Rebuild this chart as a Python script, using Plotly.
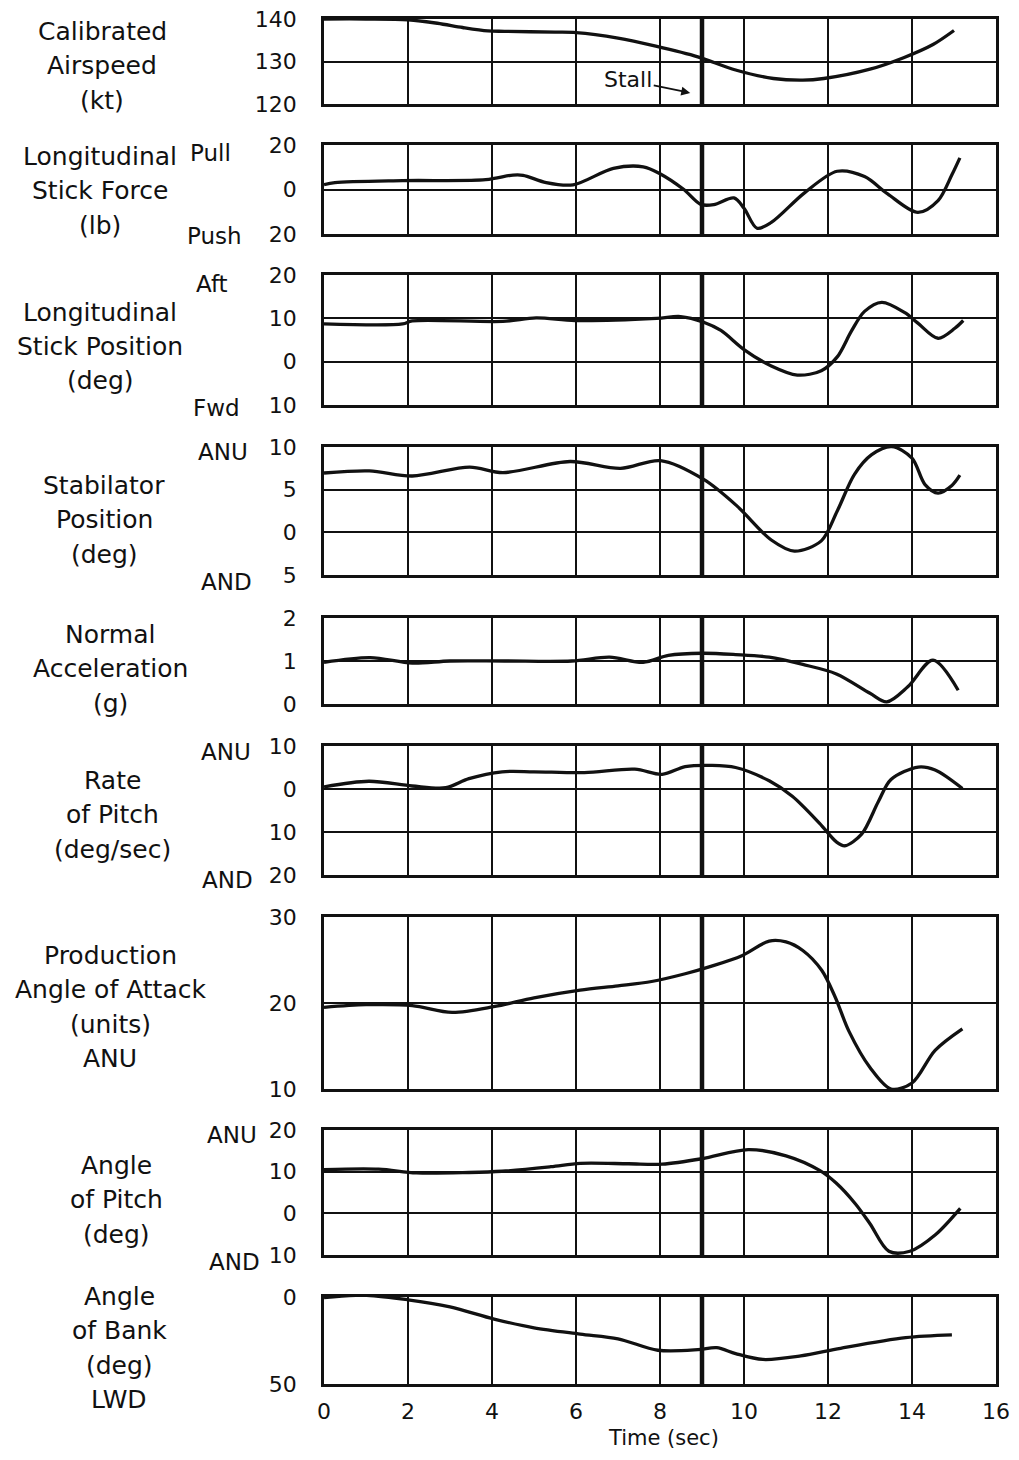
import plotly.graph_objects as go

# ---------------- data ----------------
STALL_TIME = 9.0
TIME_TICKS = [0, 2, 4, 6, 8, 10, 12, 14, 16]

AIRSPEED_T = [0, 1, 2, 2.7, 3.3, 3.9, 4.3, 5.5, 6.0, 7.0, 7.9, 8.9, 9.8, 10.7, 11.4, 11.9, 13.0, 13.8, 14.5, 15.0]
AIRSPEED_KT = [140, 140, 139.8, 139.0, 138.0, 137.2, 137.1, 136.9, 136.8, 135.5, 133.6, 131.1, 128.0, 126.0, 125.6, 126.0, 128.2, 130.9, 134.0, 137.3]

FORCE_T = [0, 0.26, 1.87, 3.85, 4.5, 4.74, 5.29, 5.93, 6.89, 7.6, 8.01, 8.56, 8.97, 9.28, 9.76, 10.0, 10.31, 10.65, 11.44, 12.22, 12.87, 13.42, 14.14, 14.62, 14.95, 15.14]
FORCE_LB = [2.2, 3.1, 4.0, 4.4, 6.5, 6.4, 3.1, 2.1, 9.5, 10.2, 7.0, 0.1, -6.7, -6.8, -3.8, -8.4, -17.4, -14.8, -1.5, 8.2, 5.8, -2.0, -10.3, -5.0, 6.6, 14.2]

STICK_T = [0, 1.87, 2.1, 4.26, 5.05, 5.98, 7.92, 8.49, 9.04, 9.45, 10.0, 10.65, 11.27, 11.84, 12.22, 12.56, 12.87, 13.28, 13.83, 14.14, 14.62, 15.02, 15.22]
STICK_DEG = [8.7, 8.7, 9.4, 9.3, 10.1, 9.5, 10.0, 10.4, 9.1, 7.2, 2.8, -1.0, -3.1, -2.1, 1.1, 7.1, 11.6, 13.7, 11.3, 8.9, 5.4, 7.7, 9.5]

STAB_T = [0, 1.08, 2.1, 3.47, 4.26, 5.86, 7.06, 8.01, 9.04, 9.83, 10.65, 11.2, 11.84, 12.22, 12.63, 13.04, 13.52, 14.0, 14.31, 14.62, 14.95, 15.14]
STAB_DEG = [6.95, 7.2, 6.6, 7.65, 7.0, 8.3, 7.5, 8.4, 6.2, 3.1, -0.9, -2.2, -1.0, 2.5, 6.8, 9.1, 10.05, 8.7, 5.6, 4.6, 5.5, 6.7]

NZ_T = [0, 1.1, 2.1, 3.0, 4.3, 5.9, 6.8, 7.6, 8.2, 9.0, 9.8, 10.6, 11.4, 12.2, 13.0, 13.4, 13.9, 14.5, 15.1]
NZ_G = [0.97, 1.08, 0.95, 1.0, 1.0, 1.0, 1.09, 0.97, 1.13, 1.18, 1.15, 1.09, 0.92, 0.70, 0.25, 0.05, 0.40, 1.02, 0.32]

QRATE_T = [0, 1.07, 2.1, 2.9, 3.45, 4.24, 5.0, 6.2, 7.4, 8.05, 8.6, 9.24, 9.8, 10.6, 11.15, 11.8, 12.2, 12.4, 12.8, 13.2, 13.5, 14.15, 14.55, 15.2]
QRATE_DPS = [0.5, 1.8, 0.7, 0.3, 2.4, 4.0, 4.0, 3.8, 4.6, 3.4, 5.2, 5.5, 5.0, 1.9, -1.7, -8.0, -12.3, -13.2, -10.5, -2.9, 2.2, 5.1, 4.4, 0.1]

AOA_T = [0, 1, 2.1, 3.05, 4.07, 5.0, 6.1, 7.0, 7.8, 8.6, 9.17, 9.95, 10.6, 11.0, 11.4, 11.85, 12.17, 12.5, 13.0, 13.5, 14.0, 14.55, 15.2]
AOA_UNITS = [19.5, 19.8, 19.7, 18.9, 19.6, 20.6, 21.5, 22.0, 22.5, 23.4, 24.2, 25.5, 27.2, 27.1, 26.1, 23.8, 20.7, 16.7, 12.5, 10.0, 10.7, 14.5, 17.0]

PITCH_T = [0, 1.3, 2.2, 3.45, 4.24, 5.4, 6.1, 7.25, 8.05, 9.0, 10.1, 11.0, 11.8, 12.2, 12.65, 13.0, 13.45, 13.95, 14.55, 15.15]
PITCH_DEG = [10.5, 10.6, 9.7, 9.8, 10.1, 11.2, 12.0, 11.9, 11.8, 13.1, 15.3, 13.8, 10.3, 7.2, 2.3, -2.5, -9.1, -9.1, -5.2, 1.2]

BANK_T = [0, 0.95, 2.0, 3.0, 4.05, 5.0, 6.1, 7.0, 7.95, 8.9, 9.35, 9.8, 10.45, 11.35, 12.3, 13.85, 14.95]
BANK_DEG = [0.4, -1.0, 1.6, 5.7, 12.7, 17.7, 21.3, 24.0, 30.6, 30.3, 29.1, 32.5, 35.9, 33.9, 29.5, 23.4, 21.8]

# tick values (labels show magnitudes only, as in the original)
AIRSPEED_TICKS = [120, 130, 140]
FORCE_TICKS = [-20, 0, 20]
STICK_TICKS = [-10, 0, 10, 20]
STAB_TICKS = [-5, 0, 5, 10]
NZ_TICKS = [0, 1, 2]
QRATE_TICKS = [-20, -10, 0, 10]
AOA_TICKS = [10, 20, 30]
PITCH_TICKS = [-10, 0, 10, 20]
BANK_TICKS = [0, 50]

# ---------------- layout helpers ----------------
PAGE_W, PAGE_H = 1019, 1460
BODY_MARGIN = 8                      # default page margin around the plot div
W, H = PAGE_W - 2 * BODY_MARGIN, PAGE_H - 2 * BODY_MARGIN
FONT = "DejaVu Sans"
INK = "#111111"
X_LEFT, X_RIGHT = 324, 996


def yp(p):
    return 1 - (p - BODY_MARGIN) / H


def xp(p):
    return (p - BODY_MARGIN) / W


panels = [
    dict(t=AIRSPEED_T, v=AIRSPEED_KT, ticks=AIRSPEED_TICKS, rng=[120, 140], top=19, bot=104),
    dict(t=FORCE_T, v=FORCE_LB, ticks=FORCE_TICKS, rng=[-20, 20], top=145, bot=234),
    dict(t=STICK_T, v=STICK_DEG, ticks=STICK_TICKS, rng=[-10, 20], top=275, bot=405),
    dict(t=STAB_T, v=STAB_DEG, ticks=STAB_TICKS, rng=[-5, 10], top=447, bot=575),
    dict(t=NZ_T, v=NZ_G, ticks=NZ_TICKS, rng=[0, 2], top=618, bot=704),
    dict(t=QRATE_T, v=QRATE_DPS, ticks=QRATE_TICKS, rng=[-20, 10], top=746, bot=875),
    dict(t=AOA_T, v=AOA_UNITS, ticks=AOA_TICKS, rng=[10, 30], top=917, bot=1089),
    dict(t=PITCH_T, v=PITCH_DEG, ticks=PITCH_TICKS, rng=[-10, 20], top=1130, bot=1255),
    dict(t=BANK_T, v=BANK_DEG, ticks=BANK_TICKS, rng=[50, 0], top=1297, bot=1384),
]

fig = go.Figure()
layout = dict(
    width=W, height=H,
    margin=dict(l=0, r=0, t=0, b=0, autoexpand=False),
    paper_bgcolor="white", plot_bgcolor="white",
    showlegend=False,
    font=dict(family=FONT, color=INK, size=22),
)
shapes = []
n = len(panels)
for i, p in enumerate(panels):
    k = "" if i == 0 else str(i + 1)
    xa, ya = "x" + k, "y" + k
    fig.add_trace(go.Scatter(
        x=p["t"], y=p["v"], mode="lines", xaxis=xa, yaxis=ya,
        line=dict(color=INK, width=3.3, shape="spline", smoothing=0.9),
        hoverinfo="skip",
    ))
    last = i == n - 1
    layout["xaxis" + k] = dict(
        domain=[xp(X_LEFT), xp(X_RIGHT)], anchor=ya, range=[0, 16],
        tickvals=TIME_TICKS, showticklabels=last, ticks="",
        showgrid=True, gridcolor=INK, gridwidth=2,
        showline=True, mirror=True, linecolor=INK, linewidth=2.8,
        zeroline=False, tickfont=dict(size=22, family=FONT, color=INK),
        ticklabelstandoff=6, ticklabeloverflow="allow",
    )
    layout["yaxis" + k] = dict(
        domain=[yp(p["bot"]), yp(p["top"])], anchor=xa, range=p["rng"],
        tickvals=p["ticks"], ticktext=[str(abs(v)) for v in p["ticks"]],
        ticks="", showgrid=True, gridcolor=INK, gridwidth=2,
        showline=True, mirror=True, linecolor=INK, linewidth=2.8,
        zeroline=False, tickfont=dict(size=22, family=FONT, color=INK),
        ticklabelstandoff=20, ticklabeloverflow="allow",
    )
    shapes.append(dict(
        type="line", xref=xa, yref=ya + " domain", x0=STALL_TIME, x1=STALL_TIME,
        y0=0, y1=1, line=dict(color=INK, width=4.5),
    ))

layout["shapes"] = shapes

# ---------------- text labels ----------------
annotations = []


def label(text, cx, cy, size=25):
    annotations.append(dict(
        text=text, x=xp(cx), y=yp(cy), xref="paper", yref="paper",
        showarrow=False, xanchor="center", yanchor="middle",
        font=dict(family=FONT, size=size, color=INK),
    ))


titles = [
    (["Calibrated", "Airspeed", "(kt)"], 102, 31),
    (["Longitudinal", "Stick Force", "(lb)"], 100, 156),
    (["Longitudinal", "Stick Position", "(deg)"], 100, 312),
    (["Stabilator", "Position", "(deg)"], 104, 485),
    (["Normal", "Acceleration", "(g)"], 110, 634),
    (["Rate", "of Pitch", "(deg/sec)"], 112, 780),
    (["Production", "Angle of Attack", "(units)", "ANU"], 110, 955),
    (["Angle", "of Pitch", "(deg)"], 116, 1165),
    (["Angle", "of Bank", "(deg)", "LWD"], 119, 1296),
]
LINE_STEP = 34.5
for lines, cx, cy in titles:
    for j, ln in enumerate(lines):
        label(ln, cx, cy + j * LINE_STEP)

side_words = [
    ("Pull", 210, 153), ("Push", 214, 236),
    ("Aft", 212, 284), ("Fwd", 216, 408),
    ("ANU", 223, 452), ("AND", 226, 582),
    ("ANU", 226, 752), ("AND", 227, 880),
    ("ANU", 232, 1135), ("AND", 234, 1262),
]
for w, cx, cy in side_words:
    label(w, cx, cy, size=23)

label("Time (sec)", 663, 1438, size=21)

# stall marker
annotations.append(dict(
    text="Stall", x=8.72, y=122.6, xref="x", yref="y",
    ax=-62, ay=-13, showarrow=True, arrowhead=2, arrowsize=1,
    arrowwidth=1.8, arrowcolor=INK,
    font=dict(family=FONT, size=22, color=INK),
))

layout["annotations"] = annotations
fig.update_layout(**layout)
fig.write_html("out.html")
